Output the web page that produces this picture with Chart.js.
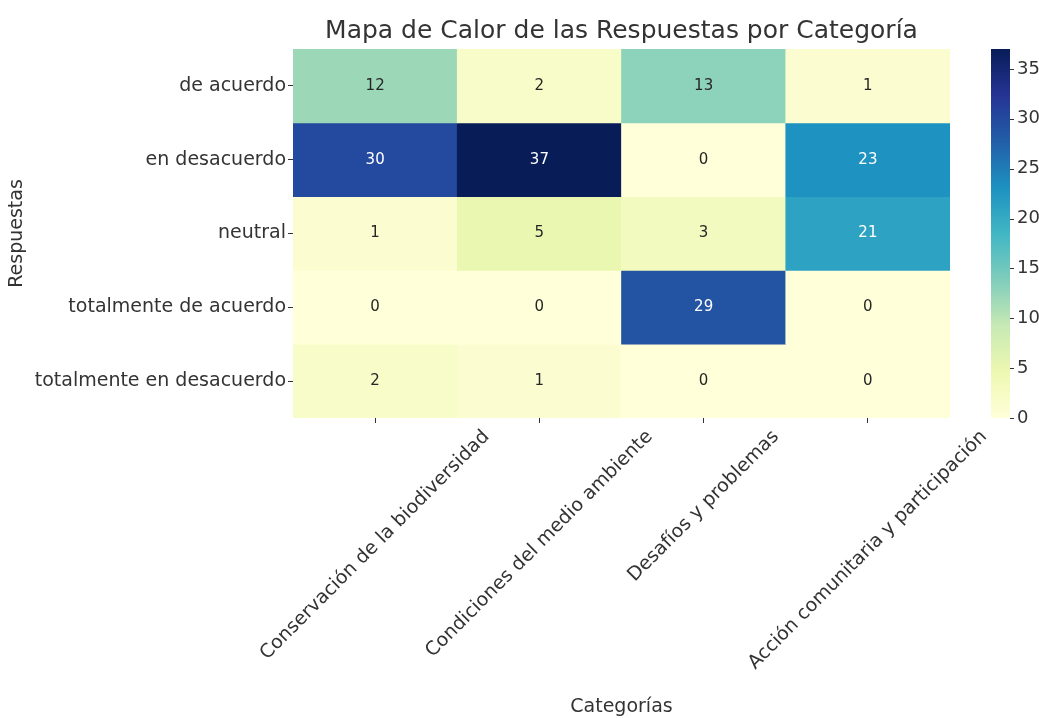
<!DOCTYPE html>
<html>
<head>
<meta charset="utf-8">
<script src="https://cdn.jsdelivr.net/npm/chart.js@4"></script>
<style>
  html, body { margin: 0; padding: 0; background: #fff; }
  #wrap { width: 1039px; height: 718px; }
</style>
</head>
<body>
<div id="wrap"><canvas id="heatmap" width="1039" height="718"></canvas></div>
<script>
// Heatmap data (rows = responses, columns = categories)
const categories = ['Conservación de la biodiversidad', 'Condiciones del medio ambiente', 'Desafíos y problemas', 'Acción comunitaria y participación'];
const responses = ['de acuerdo', 'en desacuerdo', 'neutral', 'totalmente de acuerdo', 'totalmente en desacuerdo'];

const deAcuerdo = [12, 2, 13, 1];
const enDesacuerdo = [30, 37, 0, 23];
const neutral = [1, 5, 3, 21];
const totalmenteDeAcuerdo = [0, 0, 29, 0];
const totalmenteEnDesacuerdo = [2, 1, 0, 0];
const counts = [deAcuerdo, enDesacuerdo, neutral, totalmenteDeAcuerdo, totalmenteEnDesacuerdo];

const colorbarTicks = [0, 5, 10, 15, 20, 25, 30, 35];
const vmin = 0;
const vmax = 37;

// YlGnBu colormap stops (colorbrewer, as in matplotlib)
const ylGnBu = ['#ffffd9', '#edf8b1', '#c7e9b4', '#7fcdbb', '#41b6c4', '#1d91c0', '#225ea8', '#253494', '#081d58'];

function hexToRgb(h) {
    return [parseInt(h.slice(1, 3), 16), parseInt(h.slice(3, 5), 16), parseInt(h.slice(5, 7), 16)];
}

function colorFor(v) {
    let t = (v - vmin) / (vmax - vmin);
    t = Math.max(0, Math.min(1, t));
    const pos = t * (ylGnBu.length - 1);
    const i = Math.min(Math.floor(pos), ylGnBu.length - 2);
    const f = pos - i;
    const a = hexToRgb(ylGnBu[i]), b = hexToRgb(ylGnBu[i + 1]);
    return a.map((x, k) => Math.round(x + (b[k] - x) * f));
}

function luminance(rgb) {
    const lin = rgb.map(x => {
        x = x / 255;
        return x <= 0.03928 ? x / 12.92 : Math.pow((x + 0.055) / 1.055, 2.4);
    });
    return 0.2126 * lin[0] + 0.7152 * lin[1] + 0.0722 * lin[2];
}

const TEXT = '#333333';
Chart.defaults.font.family = '"DejaVu Sans", sans-serif';
Chart.defaults.color = TEXT;

// one stacked dataset per response row; every cell has height 1
const datasets = responses.map((r, i) => ({
    label: r,
    data: categories.map(() => 1),
    counts: counts[i],
    backgroundColor: counts[i].map(v => 'rgb(' + colorFor(v).join(',') + ')'),
    borderWidth: 0,
    barPercentage: 1,
    categoryPercentage: 1,
    yAxisID: 'y'
}));

// cell values, title, rotated x labels and the colorbar
const heatmapExtras = {
    id: 'heatmapExtras',
    afterDatasetsDraw(chart) {
        const ctx = chart.ctx;
        ctx.save();
        ctx.font = '15px "DejaVu Sans"';
        ctx.textAlign = 'center';
        ctx.textBaseline = 'middle';
        chart.data.datasets.forEach((ds, i) => {
            chart.getDatasetMeta(i).data.forEach((bar, j) => {
                const v = ds.counts[j];
                ctx.fillStyle = luminance(colorFor(v)) > 0.408 ? '#262626' : '#ffffff';
                ctx.fillText(String(v), bar.x, (bar.y + bar.base) / 2);
            });
        });
        ctx.restore();
    },
    afterDraw(chart) {
        const ctx = chart.ctx;
        const area = chart.chartArea;
        ctx.save();

        // title centred over the plot
        ctx.font = '25px "DejaVu Sans"';
        ctx.fillStyle = TEXT;
        ctx.textAlign = 'center';
        ctx.textBaseline = 'middle';
        ctx.fillText('Mapa de Calor de las Respuestas por Categoría', (area.left + area.right) / 2, 31);

        // x tick labels, rotated 45deg and centred on the tick (matplotlib style)
        const xs = chart.scales.x;
        ctx.font = '19px "DejaVu Sans"';
        const h = 19;
        categories.forEach((c, i) => {
            const x = xs.getPixelForValue(i);
            const w = ctx.measureText(c).width;
            const top = area.bottom + 9;
            const cy = top + (w + h) / (2 * Math.SQRT2);
            ctx.save();
            ctx.translate(x, cy);
            ctx.rotate(-Math.PI / 4);
            ctx.fillText(c, 0, 0);
            ctx.restore();
        });

        // colorbar
        const cb = chart.scales.cb;
        const x0 = 991, x1 = 1010;
        const yTop = cb.getPixelForValue(vmax), yBot = cb.getPixelForValue(vmin);
        const grad = ctx.createLinearGradient(0, yBot, 0, yTop);
        ylGnBu.forEach((col, k) => grad.addColorStop(k / (ylGnBu.length - 1), col));
        ctx.fillStyle = grad;
        ctx.fillRect(x0, yTop, x1 - x0, yBot - yTop);
        ctx.strokeStyle = TEXT;
        ctx.lineWidth = 1;
        colorbarTicks.forEach(t => {
            const y = Math.round(cb.getPixelForValue(t)) + 0.5;
            ctx.beginPath();
            ctx.moveTo(x1, y);
            ctx.lineTo(x1 + 4, y);
            ctx.stroke();
        });
        ctx.restore();
    }
};

new Chart(document.getElementById('heatmap'), {
    type: 'bar',
    data: { labels: categories, datasets: datasets },
    options: {
        responsive: false,
        animation: false,
        layout: { padding: { top: 49, left: 0, right: 0, bottom: 0 } },
        plugins: {
            legend: { display: false },
            tooltip: { enabled: false }
        },
        scales: {
            x: {
                stacked: true,
                offset: true,
                grid: { offset: false, drawOnChartArea: false, drawTicks: true, tickLength: 5, color: TEXT },
                border: { display: false },
                ticks: { display: false },
                title: { display: true, text: 'Categorías', font: { size: 19 }, color: TEXT, padding: { top: 4, bottom: 0 } },
                afterFit: s => { s.height = 300; }
            },
            y: {
                stacked: true,
                reverse: true,
                min: 0,
                max: responses.length,
                grid: { drawOnChartArea: false, drawTicks: true, tickLength: 5, color: TEXT },
                border: { display: false },
                afterBuildTicks: s => { s.ticks = responses.map((r, i) => ({ value: i + 0.5 })); },
                ticks: {
                    font: { size: 19 },
                    color: TEXT,
                    padding: 2,
                    callback: v => responses[Math.floor(v)]
                },
                title: { display: true, text: 'Respuestas', font: { size: 19 }, color: TEXT, padding: { top: 6, bottom: 4 } },
                afterFit: s => { s.width = 293; }
            },
            cb: {
                type: 'linear',
                position: 'right',
                min: vmin,
                max: vmax,
                grid: { display: false, drawTicks: false },
                border: { display: false },
                afterBuildTicks: s => { s.ticks = colorbarTicks.map(v => ({ value: v })); },
                ticks: { font: { size: 18 }, color: TEXT, padding: 67 },
                afterFit: s => { s.width = 89; s.paddingTop = 0; s.paddingBottom = 0; }
            }
        }
    },
    plugins: [heatmapExtras]
});
</script>
</body>
</html>
